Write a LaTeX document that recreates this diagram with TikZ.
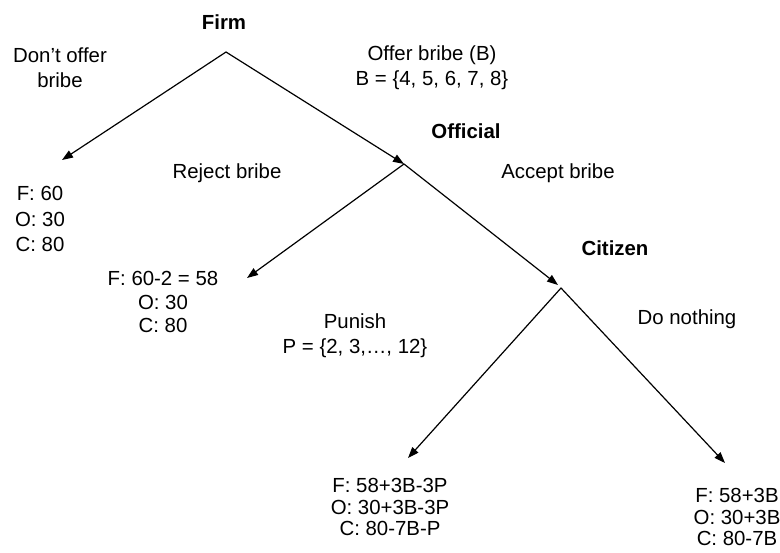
\documentclass[tikz,border=0pt]{standalone}
\usepackage{fontspec}
\setmainfont{Liberation Sans}
\usetikzlibrary{arrows.meta}
\tikzset{
  lbl/.style={font=\fontsize{10.2}{12.3}\selectfont,align=center,inner sep=0pt},
  who/.style={lbl,font=\fontsize{10.2}{12.3}\selectfont\bfseries},
  tight/.style={lbl,font=\fontsize{10.2}{10.8}\selectfont},
  loose/.style={lbl,font=\fontsize{10.2}{12.7}\selectfont},
  move/.style={->,line width=0.6pt}
}
\begin{document}
\begin{tikzpicture}[line cap=round,line join=round,>={Triangle[length=5.5pt,width=4pt]},x=0.5pt,y=-0.5pt]
  \useasboundingbox (0,0) rectangle (780,552);
  % decision points and arrow ends
  \coordinate (firm) at (226,52);
  \coordinate (nooffer) at (62,160);
  \coordinate (official) at (404,164);
  \coordinate (reject) at (247,278);
  \coordinate (accept) at (558,285);
  \coordinate (citizen) at (561,288);
  \coordinate (punish) at (408,458);
  \coordinate (nothing) at (725,463);
  % players
  \node[who] (firmlbl) at (224,22) {Firm};
  \node[who] (officiallbl) at (466,131) {Official};
  \node[who] (citizenlbl) at (615,248) {Citizen};
  % moves
  \node[lbl] (nooffertxt) at (60,68) {Don't offer\\bribe};
  \node[lbl] (offertxt) at (432,68) {Offer bribe (B)\\B = \{4, 5, 6, 7, 8\}};
  \node[lbl] (rejecttxt) at (227,173) {Reject bribe};
  \node[lbl] (accepttxt) at (558,173) {Accept bribe};
  \node[lbl] (punishtxt) at (355,336) {Punish\\P = \{2, 3,…, 12\}};
  \node[lbl] (nothingtxt) at (687,319) {Do nothing};
  % payoffs
  \node[loose] (pay1) at (40,219) {F: 60\\O: 30\\C: 80};
  \node[lbl,font=\fontsize{10.2}{11.8}\selectfont] (pay2) at (163,302) {F: 60-2 = 58\\O: 30\\C: 80};
  \node[tight] (pay3) at (390,507) {F: 58+3B-3P\\O: 30+3B-3P\\C: 80-7B-P};
  \node[tight] (pay4) at (737,517) {F: 58+3B\\O: 30+3B\\C: 80-7B};
  % tree
  \draw[move] (firm) -- (nooffer);
  \draw[move] (firm) -- (official);
  \draw[move] (official) -- (reject);
  \draw[move] (official) -- (accept);
  \draw[move] (citizen) -- (punish);
  \draw[move] (citizen) -- (nothing);
\end{tikzpicture}
\end{document}
